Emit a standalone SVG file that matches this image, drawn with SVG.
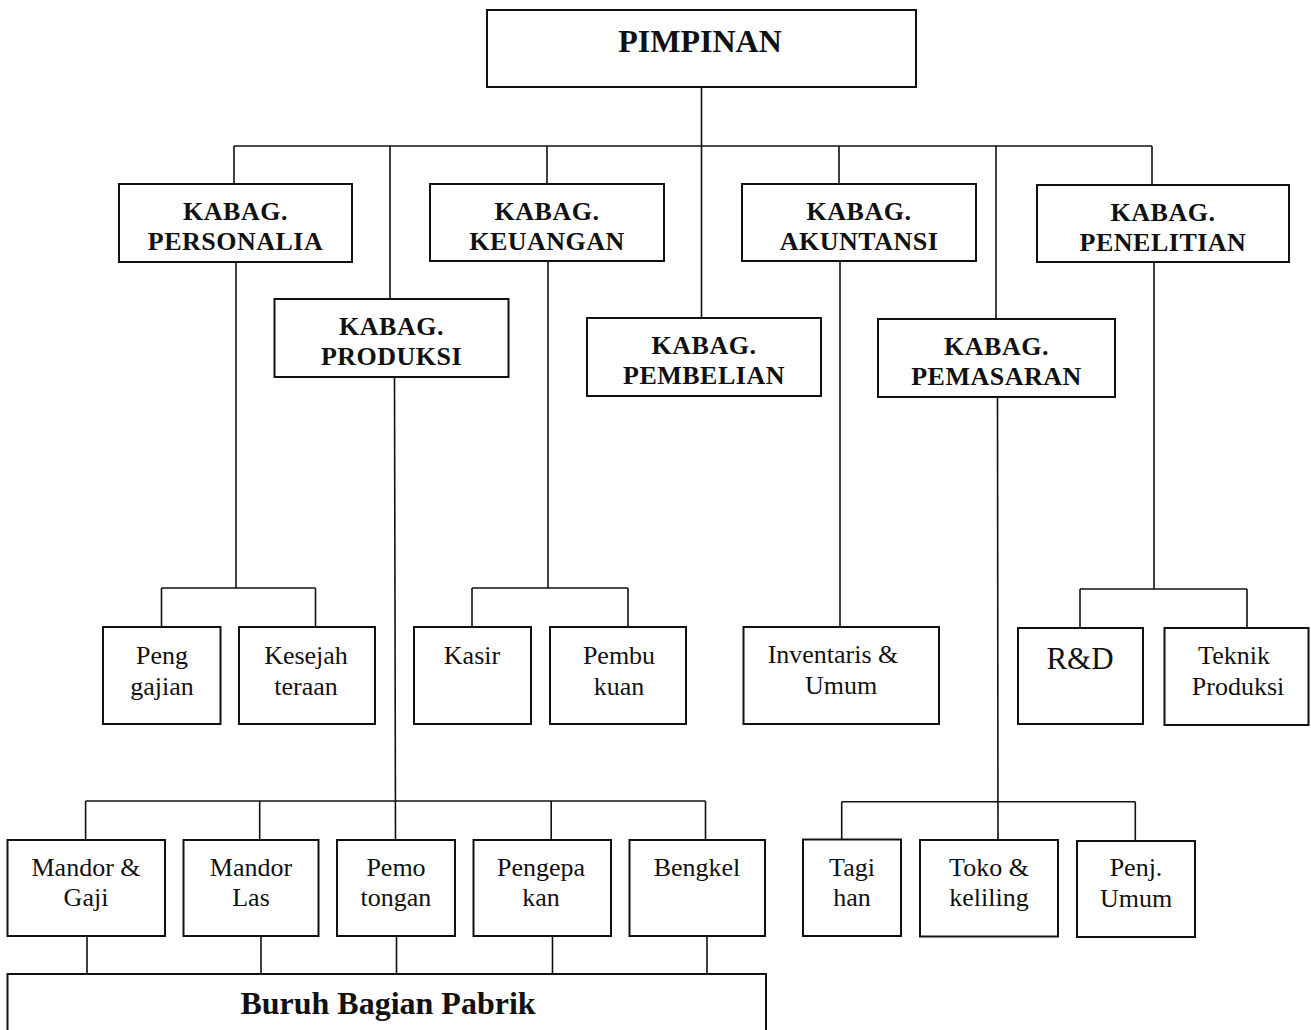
<svg xmlns="http://www.w3.org/2000/svg" width="1311" height="1030" viewBox="0 0 1311 1030">
<style>
rect{fill:#fff;stroke:#111;stroke-width:2}
.c line{stroke:#111;stroke-width:1.6}
text{font-family:"Liberation Serif","Times New Roman",serif;fill:#111;text-anchor:middle}
.h{font-weight:bold;font-size:26px;letter-spacing:0.5px}
.n{font-size:26px}
</style>
<rect x="0" y="0" width="1311" height="1030" style="fill:#fff;stroke:none"/>
<g class="c" id="connectors">
<line x1="701.5" y1="87" x2="701.5" y2="318"/>
<line x1="234" y1="146" x2="1152" y2="146"/>
<line x1="234" y1="146" x2="234" y2="184"/>
<line x1="390" y1="146" x2="390" y2="299"/>
<line x1="547" y1="146" x2="547" y2="184"/>
<line x1="839" y1="146" x2="839" y2="184"/>
<line x1="996" y1="146" x2="996" y2="319"/>
<line x1="1152" y1="146" x2="1152" y2="185"/>
<line x1="236" y1="262" x2="236" y2="588"/>
<line x1="161.5" y1="588" x2="315.5" y2="588"/>
<line x1="161.5" y1="588" x2="161.5" y2="627"/>
<line x1="315.5" y1="588" x2="315.5" y2="627"/>
<line x1="548" y1="261" x2="548" y2="588"/>
<line x1="472" y1="588" x2="628" y2="588"/>
<line x1="472" y1="588" x2="472" y2="627"/>
<line x1="628" y1="588" x2="628" y2="627"/>
<line x1="840" y1="261" x2="840" y2="627"/>
<line x1="1154" y1="262" x2="1154" y2="589"/>
<line x1="1080" y1="589" x2="1247" y2="589"/>
<line x1="1080" y1="589" x2="1080" y2="628"/>
<line x1="1247" y1="589" x2="1247" y2="628"/>
<line x1="394.5" y1="377" x2="395.5" y2="840"/>
<line x1="85.6" y1="801" x2="705.5" y2="801"/>
<line x1="85.6" y1="801" x2="85.6" y2="840"/>
<line x1="259.7" y1="801" x2="259.7" y2="840"/>
<line x1="551.2" y1="801" x2="551.2" y2="840"/>
<line x1="705.5" y1="801" x2="705.5" y2="840"/>
<line x1="87" y1="936" x2="87" y2="974"/>
<line x1="261" y1="936" x2="261" y2="974"/>
<line x1="396.5" y1="936" x2="396.5" y2="974"/>
<line x1="552.5" y1="936" x2="552.5" y2="974"/>
<line x1="707" y1="936" x2="707" y2="974"/>
<line x1="997.5" y1="397" x2="998" y2="840"/>
<line x1="841.7" y1="801.7" x2="1135.3" y2="801.7"/>
<line x1="841.7" y1="801.7" x2="841.7" y2="839"/>
<line x1="1135.3" y1="801.7" x2="1135.3" y2="841"/>
</g>
<g id="pimpinan"><rect x="487" y="10" width="429" height="77"/><text x="700" y="52" style="font-weight:bold;font-size:32px">PIMPINAN</text></g>
<g id="personalia"><rect x="119" y="184" width="233" height="78"/><text class="h" x="235.5" y="220">KABAG.</text><text class="h" x="235.5" y="250">PERSONALIA</text></g>
<g id="keuangan"><rect x="430" y="184" width="234" height="77"/><text class="h" x="547" y="220">KABAG.</text><text class="h" x="547" y="250">KEUANGAN</text></g>
<g id="akuntansi"><rect x="742" y="184" width="234" height="77"/><text class="h" x="859" y="220">KABAG.</text><text class="h" x="859" y="250">AKUNTANSI</text></g>
<g id="penelitian"><rect x="1037" y="185" width="252" height="77"/><text class="h" x="1163" y="221">KABAG.</text><text class="h" x="1163" y="251">PENELITIAN</text></g>
<g id="produksi"><rect x="274.5" y="299" width="234" height="78"/><text class="h" x="391.5" y="335">KABAG.</text><text class="h" x="391.5" y="365">PRODUKSI</text></g>
<g id="pembelian"><rect x="587" y="318" width="234" height="78"/><text class="h" x="704" y="354">KABAG.</text><text class="h" x="704" y="384">PEMBELIAN</text></g>
<g id="pemasaran"><rect x="878" y="319" width="237" height="78"/><text class="h" x="996.5" y="355">KABAG.</text><text class="h" x="996.5" y="385">PEMASARAN</text></g>
<g id="penggajian"><rect x="103" y="627" width="117.5" height="97"/><text class="n" x="162" y="664">Peng</text><text class="n" x="162" y="695">gajian</text></g>
<g id="kesejahteraan"><rect x="239" y="627" width="136" height="97"/><text class="n" x="306" y="664">Kesejah</text><text class="n" x="306" y="695">teraan</text></g>
<g id="kasir"><rect x="414" y="627" width="117" height="97"/><text class="n" x="472" y="664">Kasir</text></g>
<g id="pembukuan"><rect x="550" y="627" width="136" height="97"/><text class="n" x="619" y="664">Pembu</text><text class="n" x="619" y="695">kuan</text></g>
<g id="inventaris"><rect x="743.5" y="627" width="195.5" height="97"/><text class="n" x="833" y="663">Inventaris &amp;</text><text class="n" x="841" y="694">Umum</text></g>
<g id="rnd"><rect x="1018" y="628" width="125" height="96"/><text x="1080" y="669" style="font-size:31px">R&amp;D</text></g>
<g id="teknik"><rect x="1164.5" y="628" width="144" height="97"/><text class="n" x="1234" y="664">Teknik</text><text class="n" x="1238" y="695">Produksi</text></g>
<g id="mandorgaji"><rect x="7.5" y="840" width="157.5" height="96"/><text class="n" x="86" y="876">Mandor &amp;</text><text class="n" x="86" y="906">Gaji</text></g>
<g id="mandorlas"><rect x="183.5" y="840" width="135" height="96"/><text class="n" x="251" y="876">Mandor</text><text class="n" x="251" y="906">Las</text></g>
<g id="pemotongan"><rect x="337" y="840" width="118" height="96"/><text class="n" x="396" y="876">Pemo</text><text class="n" x="396" y="906">tongan</text></g>
<g id="pengepakan"><rect x="473.5" y="840" width="137.5" height="96"/><text class="n" x="541" y="876">Pengepa</text><text class="n" x="541" y="906">kan</text></g>
<g id="bengkel"><rect x="629.5" y="840" width="135.5" height="96"/><text class="n" x="697" y="876">Bengkel</text></g>
<g id="tagihan"><rect x="803" y="839.5" width="98" height="96.5"/><text class="n" x="852" y="876">Tagi</text><text class="n" x="852" y="906">han</text></g>
<g id="toko"><rect x="920" y="840" width="138" height="96.5"/><text class="n" x="989" y="876">Toko &amp;</text><text class="n" x="989" y="906">keliling</text></g>
<g id="penjumum"><rect x="1077" y="841" width="118" height="96"/><text class="n" x="1136" y="876">Penj.</text><text class="n" x="1136" y="907">Umum</text></g>
<g id="buruh"><rect x="7.5" y="974" width="758.5" height="70"/><text x="388" y="1014" style="font-weight:bold;font-size:32px">Buruh Bagian Pabrik</text></g>
</svg>
